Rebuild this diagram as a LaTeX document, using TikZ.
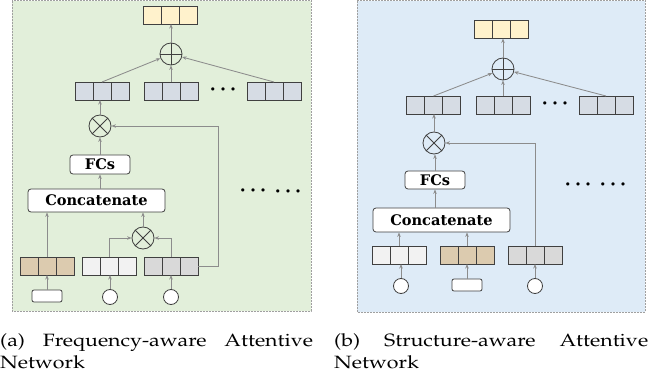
\documentclass[tikz,border=0pt]{standalone}
\usepackage{fontspec}
\usepackage[T1]{fontenc}
\usepackage{mathpazo}
\newfontfamily\boxfont{DejaVu Serif}
\newfontfamily\dotfont{DejaVu Sans}
\usetikzlibrary{arrows.meta}
\definecolor{greenbg}{HTML}{E2EFDA}
\definecolor{bluebg}{HTML}{DEEBF7}
\definecolor{yel}{HTML}{FFF2CC}
\definecolor{slate}{HTML}{D6DCE4}
\definecolor{tanc}{HTML}{DCCBAF}
\definecolor{lightc}{HTML}{F2F2F2}
\definecolor{grayc}{HTML}{D9D9D9}
\definecolor{edgec}{HTML}{404040}
\definecolor{arrc}{HTML}{8C8C8C}
\definecolor{panelb}{HTML}{A0A0A0}
\newcommand\threedots{•\hspace{3.7pt}•\hspace{3.7pt}•}
\tikzset{
  vec/.style={draw=edgec, line width=0.7pt, minimum width=54pt, minimum height=18pt, inner sep=0pt, outer sep=0pt,
    path picture={\draw[edgec,line width=0.7pt]
      ([xshift=18pt]path picture bounding box.south west) -- ([xshift=18pt]path picture bounding box.north west)
      ([xshift=-18pt]path picture bounding box.south east) -- ([xshift=-18pt]path picture bounding box.north east);}},
  otimes/.style={circle, draw=edgec, line width=0.8pt, minimum size=22pt, inner sep=0pt,
    path picture={\draw[edgec,line width=0.8pt]
      (path picture bounding box.south west) -- (path picture bounding box.north east)
      (path picture bounding box.north west) -- (path picture bounding box.south east);}},
  oplus/.style={circle, draw=edgec, line width=0.8pt, minimum size=22pt, inner sep=0pt,
    path picture={\draw[edgec,line width=0.8pt]
      (path picture bounding box.west) -- (path picture bounding box.east)
      (path picture bounding box.north) -- (path picture bounding box.south);}},
  incirc/.style={circle, draw=edgec, fill=white, line width=0.8pt, minimum size=15pt, inner sep=0pt},
  inrect/.style={rectangle, rounded corners=2pt, draw=edgec, fill=white, line width=0.8pt, minimum width=30pt, minimum height=12pt, inner sep=0pt},
  opbox/.style={rectangle, rounded corners=3pt, draw=edgec, fill=white, line width=0.8pt, inner sep=0pt,
    font=\boxfont\bfseries\fontsize{14.6}{15}\selectfont},
  arr/.style={draw=arrc, line width=0.85pt, -{Stealth[length=4.5pt,width=3.5pt]}},
  panel/.style={draw=panelb, dash pattern=on 2pt off 1pt, line width=0.6pt},
  dotsn/.style={inner sep=0pt, anchor=center, font=\dotfont\fontsize{11}{11}\selectfont},
  capn/.style={anchor=base west, inner sep=0pt, font=\fontsize{17.8}{22}\selectfont}
}
\begin{document}
\begin{tikzpicture}[x=1pt,y=-1pt]
\useasboundingbox (0,0) rectangle (662,377);
% panels
\path[panel, fill=greenbg] (12,0.6) rectangle (311,311);
\path[panel, fill=bluebg] (357,0.6) rectangle (645,312);

% ---------- left panel ----------
\node[vec, fill=yel] (La0) at (170,15) {};
\node[oplus] (Lsum) at (171,54) {};
\node[vec, fill=slate] (La1) at (102,91) {};
\node[vec, fill=slate] (La2) at (171,91) {};
\node[vec, fill=slate] (La3) at (274,91) {};
\node[dotsn] (Ld1) at (223,90.5) {\threedots};
\node[otimes] (Lmul) at (100,126) {};
\node[opbox, minimum width=60pt, minimum height=19pt] (Lfc) at (100,164.5) {FCs};
\node[opbox, minimum width=137pt, minimum height=23pt] (Lcat) at (96.5,200.5) {Concatenate};
\node[otimes] (Lmul2) at (143,238) {};
\node[vec, fill=tanc] (LA) at (47,266) {};
\node[vec, fill=lightc] (LB) at (109,266) {};
\node[vec, fill=grayc] (LC) at (171,266) {};
\node[inrect] (Lin1) at (47,296) {};
\node[incirc] (Lin2) at (110,297) {};
\node[incirc] (Lin3) at (171,297) {};
\node[dotsn] (Ld2) at (253,191.8) {\threedots};
\node[dotsn] (Ld3) at (288,192.8) {\threedots};
\coordinate (Lturn) at (218,126);

\draw[arr] (Lsum.north) -- (Lsum.north |- La0.south);
\draw[arr] (La1.north) -- (Lsum);
\draw[arr] (La2.north) -- (Lsum.south);
\draw[arr] (La3.north) -- (Lsum);
\draw[arr] (Lmul.north) -- (Lmul.north |- La1.south);
\draw[arr] (Lfc.north) -- (Lmul.south);
\draw[arr] (Lfc.south |- Lcat.north) -- (Lfc.south);
\draw[arr] (LA.north) -- (LA.north |- Lcat.south);
\draw[arr] (Lmul2.north) -- (Lmul2.north |- Lcat.south);
\draw[arr] (LB.north) |- (Lmul2.west);
\draw[arr] (LC.north) |- (Lmul2.east);
\draw[arr] (LC.east) -| (Lturn) -- (Lmul.east);
\draw[arr] (Lin1.north) -- (LA.south);
\draw[arr] (Lin2.north) -- (Lin2.north |- LB.south);
\draw[arr] (Lin3.north) -- (LC.south);

% ---------- right panel ----------
\node[vec, fill=yel] (Ra0) at (501,29.5) {};
\node[oplus] (Rsum) at (503,69) {};
\node[vec, fill=slate] (Ra1) at (433.5,105) {};
\node[vec, fill=slate] (Ra2) at (503,105) {};
\node[vec, fill=slate] (Ra3) at (606,105) {};
\node[dotsn] (Rd1) at (555,104.5) {\threedots};
\node[otimes] (Rmul) at (434,143) {};
\node[opbox, minimum width=60pt, minimum height=18pt] (Rfc) at (435,180) {FCs};
\node[opbox, minimum width=137pt, minimum height=24pt] (Rcat) at (441.5,220) {Concatenate};
\node[vec, fill=lightc] (RA) at (399,255) {};
\node[vec, fill=tanc] (RB) at (467,255) {};
\node[vec, fill=grayc] (RC) at (535,255) {};
\node[incirc] (Rin1) at (401,286) {};
\node[inrect] (Rin2) at (467,285) {};
\node[incirc] (Rin3) at (535,286) {};
\node[dotsn] (Rd2) at (578,185.5) {\threedots};
\node[dotsn] (Rd3) at (613,185.5) {\threedots};

\draw[arr] (Rsum.north) -- (Rsum.north |- Ra0.south);
\draw[arr] (Ra1.north) -- (Rsum);
\draw[arr] (Ra2.north) -- (Rsum.south);
\draw[arr] (Ra3.north) -- (Rsum);
\draw[arr] (Rmul.north) -- (Rmul.north |- Ra1.south);
\draw[arr] (Rfc.north) -- (Rfc.north |- Rmul.south);
\draw[arr] (Rfc.south |- Rcat.north) -- (Rfc.south);
\draw[arr] (RA.north) -- (RA.north |- Rcat.south);
\draw[arr] (RB.north) -- (RB.north |- Rcat.south);
\draw[arr] (RC.north) |- (Rmul.east);
\draw[arr] (Rin1.north) -- (Rin1.north |- RA.south);
\draw[arr] (Rin2.north) -- (RB.south);
\draw[arr] (Rin3.north) -- (RC.south);

% ---------- captions ----------
\node[capn] (capa) at (0,346) {\scalebox{1.2}[1]{\parbox[t]{260.8pt}{(a)\hfill Frequency-aware\hfill Attentive\\Network}}};
\node[capn] (capb) at (334,346) {\scalebox{1.2}[1]{\parbox[t]{261.7pt}{(b)\hfill Structure-aware\hfill Attentive\\Network}}};
\end{tikzpicture}
\end{document}
